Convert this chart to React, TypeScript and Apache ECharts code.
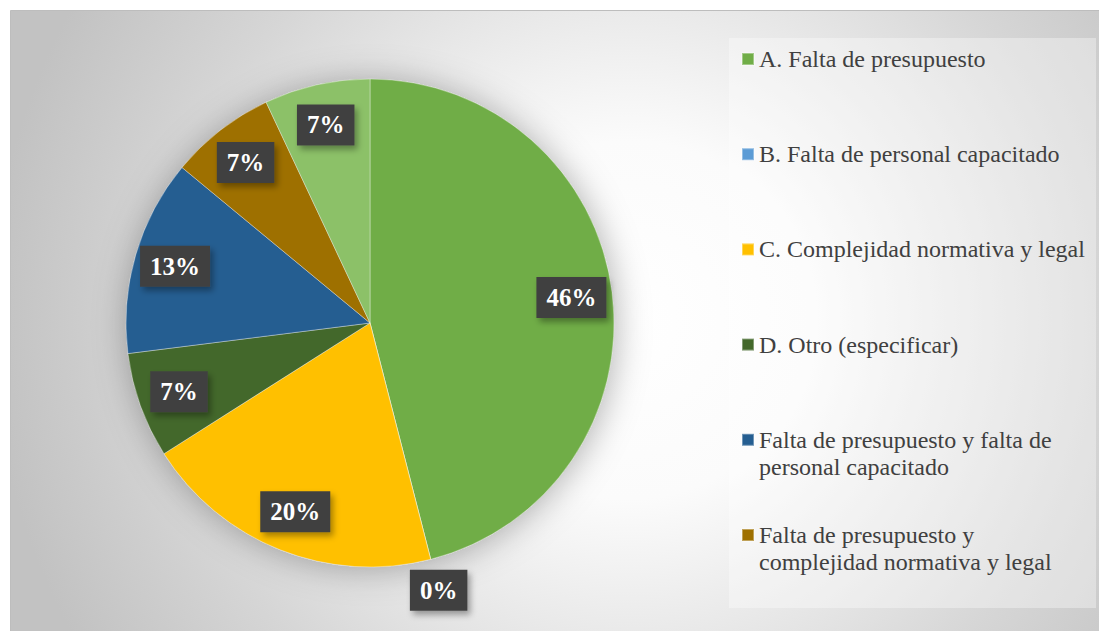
import React, { useEffect, useRef } from "react";
import * as echarts from "echarts";

const categories = [
  "A. Falta de presupuesto",
  "B. Falta de personal capacitado",
  "C. Complejidad normativa y legal",
  "D. Otro (especificar)",
  "Falta de presupuesto y falta de personal capacitado",
  "Falta de presupuesto y complejidad normativa y legal",
  "Falta de personal capacitado y complejidad normativa y legal",
];
const values = [46, 0, 20, 7, 13, 7, 7];
const colors = ["#70AD47", "#5B9BD5", "#FFC000", "#43682B", "#255E91", "#9E7000", "#8CC168"];
// legend entries that are visible in the chart (the 7th is cut off)
const legendNames = categories.slice(0, 6);
const legendLines: Record<string, string[]> = {
  "Falta de presupuesto y falta de personal capacitado": ["Falta de presupuesto y falta de", "personal capacitado"],
  "Falta de presupuesto y complejidad normativa y legal": ["Falta de presupuesto y", "complejidad normativa y legal"],
};

const FONT = "Liberation Serif, Times New Roman, serif";

export default function App() {
  const ref = useRef<HTMLDivElement>(null);
  useEffect(() => {
    document.body.style.margin = "0";
    const chart = echarts.init(ref.current!, null, { renderer: "svg" });
    const cx = 370, cy = 323, R = 244;
    const lineH = 27;

    const labelStyle = {
      formatter: "{c}%",
      color: "#ffffff",
      fontFamily: FONT,
      fontWeight: "bold" as const,
      fontSize: 25,
      backgroundColor: "#404040",
      padding: [9, 10, 7, 10],
      shadowColor: "rgba(0,0,0,0.35)",
      shadowBlur: 6,
      shadowOffsetX: 3,
      shadowOffsetY: 4,
    };

    const legends = legendNames.map((name, i) => {
      const lines = legendLines[name] ? ["", ...legendLines[name]] : [name];
      const iconCenter = 59 + i * 95.2;
      return {
        data: [name],
        orient: "vertical",
        left: 741,
        top: iconCenter - (lineH * lines.length) / 2,
        padding: 0,
        itemWidth: 12,
        itemHeight: 12,
        icon: "rect",
        selectedMode: false,
        formatter: () => lines.join("\n"),
        textStyle: { fontFamily: FONT, fontSize: 24, color: "#404040", lineHeight: lineH },
      };
    });

    const overlay = (radius: number, showZero: boolean) => ({
      type: "pie",
      center: [cx, cy],
      radius: [0, radius],
      silent: true,
      z: 5,
      emphasis: { disabled: true },
      labelLine: { show: false },
      itemStyle: { color: "rgba(0,0,0,0)", borderWidth: 0 },
      data: categories.map((n, i) => ({
        name: n,
        value: values[i],
        label: { show: showZero ? values[i] === 0 : values[i] > 0 },
      })),
      label: { position: "inside", ...labelStyle },
    });

    chart.setOption({
      animation: false,
      textStyle: { fontFamily: FONT },
      graphic: [
        {
          type: "rect",
          z: -10,
          shape: { x: 10.5, y: 10.5, width: 1090, height: 622 },
          style: {
            fill: new echarts.graphic.RadialGradient(630, 320, 640, [
              { offset: 0, color: "#ffffff" },
              { offset: 0.28, color: "#fbfbfb" },
              { offset: 0.72, color: "#d6d6d6" },
              { offset: 1, color: "#c2c2c2" },
            ], true),
            stroke: "#bdbdbd",
            lineWidth: 1,
          },
        },
        {
          type: "rect",
          z: -9,
          shape: { x: 729, y: 38, width: 367, height: 570 },
          style: { fill: "rgba(255,255,255,0.35)" },
        },
      ],
      legend: legends,
      series: [
        {
          type: "pie",
          center: [cx, cy],
          radius: R,
          silent: true,
          z: 2,
          label: { show: false },
          labelLine: { show: false },
          itemStyle: { borderColor: "rgba(255,255,255,0.35)", borderWidth: 1 },
          data: categories.map((n, i) => ({ name: n, value: values[i], itemStyle: { color: colors[i] } })),
        },
        {
          type: "pie",
          center: [cx, cy],
          radius: R,
          silent: true,
          z: 1,
          label: { show: false },
          labelLine: { show: false },
          itemStyle: {
            color: "#c8c8c8",
            shadowBlur: 34,
            shadowColor: "rgba(0,0,0,0.3)",
            shadowOffsetX: 2,
            shadowOffsetY: 2,
          },
          data: [{ name: "fondo", value: 1 }],
        },
        overlay(400, false),
        overlay(546, true),
      ],
    });
    return () => chart.dispose();
  }, []);
  return <div ref={ref} style={{ width: 1099, height: 631 }} />;
}
